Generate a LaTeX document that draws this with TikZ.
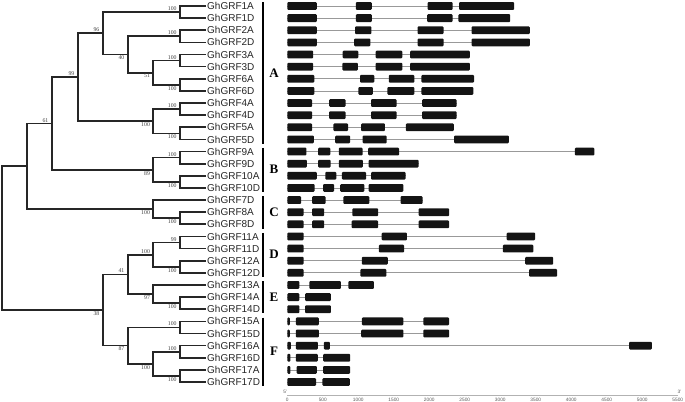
\documentclass[tikz,border=0pt]{standalone}
\usepackage{fontspec}
\setmainfont{Liberation Serif}
\setsansfont{Liberation Sans}
\usepackage{tikz}

\begin{document}
\begin{tikzpicture}[
  x=1pt, y=-12.13pt,
  branch/.style={line width=1.7pt, black!85},
  gene/.style={anchor=west, inner sep=1pt, font=\sffamily\fontsize{10}{10}\selectfont, text=black!85},
  boot/.style={inner sep=1.2pt, xshift=-2pt, font=\fontsize{5.8}{6}\selectfont, text=black!75},
  up/.style={boot, anchor=south east},
  dn/.style={boot, anchor=north east},
  bar/.style={line width=2pt, black},
  clade/.style={font=\bfseries\fontsize{13}{13}\selectfont},
  intron/.style={line width=0.8pt, black!40},
  exon/.style={fill=black!92, rounded corners=1pt},
  axis/.style={line width=1pt, black!30},
  tick/.style={inner sep=0pt, font=\sffamily\fontsize{4.8}{5}\selectfont, text=black!65}
]
\useasboundingbox (0,-0.4946) rectangle (685,32.646);
% Leaves
\foreach \g [count=\i from 0] in {1A,1D,2A,2D,3A,3D,6A,6D,4A,4D,5A,5D,9A,9D,10A,10D,
    7D,8A,8D,11A,11D,12A,12D,13A,14A,14D,15A,15D,16A,16D,17A,17D}
  \node[gene] (g\g) at (206,\i) {GhGRF\g};
% Inner nodes: paralogue pairs
\coordinate (p1)  at (180,0.5);
\coordinate (p2)  at (180,2.5);
\coordinate (p3)  at (180,4.5);
\coordinate (p6)  at (180,6.5);
\coordinate (p4)  at (180,8.5);
\coordinate (p5)  at (180,10.5);
\coordinate (p9)  at (180,12.5);
\coordinate (p10) at (180,14.5);
\coordinate (p8)  at (180,17.5);
\coordinate (p11) at (180,19.5);
\coordinate (p12) at (180,21.5);
\coordinate (p14) at (180,24.5);
\coordinate (p15) at (180,26.5);
\coordinate (p16) at (180,28.5);
\coordinate (p17) at (180,30.5);
% Inner nodes: deeper levels
\coordinate (n36)   at (153.3,5.5);
\coordinate (n45)   at (153.3,9.5);
\coordinate (nB)    at (153.3,13.5);
\coordinate (nC)    at (153.3,16.75);
\coordinate (nD)    at (153.3,20.5);
\coordinate (nE)    at (153.3,23.75);
\coordinate (n1617) at (153.3,29.5);
\coordinate (n236)  at (127.7,4);
\coordinate (nDE)   at (127.7,22.125);
\coordinate (nF)    at (127.7,28);
\coordinate (n1236) at (102.7,2.25);
\coordinate (nDEF)  at (102.7,25.0625);
\coordinate (nA)    at (77.7,5.875);
\coordinate (nAB)   at (51.7,9.6875);
\coordinate (nABC)  at (26.7,13.21875);
\coordinate (root)  at (1.7,19.140625);
% Branches
\draw[branch] (g1A.west)  -| (p1)  |- (g1D.west);
\draw[branch] (g2A.west)  -| (p2)  |- (g2D.west);
\draw[branch] (g3A.west)  -| (p3)  |- (g3D.west);
\draw[branch] (g6A.west)  -| (p6)  |- (g6D.west);
\draw[branch] (g4A.west)  -| (p4)  |- (g4D.west);
\draw[branch] (g5A.west)  -| (p5)  |- (g5D.west);
\draw[branch] (g9A.west)  -| (p9)  |- (g9D.west);
\draw[branch] (g10A.west) -| (p10) |- (g10D.west);
\draw[branch] (g8A.west)  -| (p8)  |- (g8D.west);
\draw[branch] (g11A.west) -| (p11) |- (g11D.west);
\draw[branch] (g12A.west) -| (p12) |- (g12D.west);
\draw[branch] (g14A.west) -| (p14) |- (g14D.west);
\draw[branch] (g15A.west) -| (p15) |- (g15D.west);
\draw[branch] (g16A.west) -| (p16) |- (g16D.west);
\draw[branch] (g17A.west) -| (p17) |- (g17D.west);
\draw[branch] (p3)  -| (n36)   |- (p6);
\draw[branch] (p4)  -| (n45)   |- (p5);
\draw[branch] (p9)  -| (nB)    |- (p10);
\draw[branch] (g7D.west)  -| (nC) |- (p8);
\draw[branch] (p11) -| (nD)    |- (p12);
\draw[branch] (g13A.west) -| (nE) |- (p14);
\draw[branch] (p16) -| (n1617) |- (p17);
\draw[branch] (p2)  -| (n236)  |- (n36);
\draw[branch] (nD)  -| (nDE)   |- (nE);
\draw[branch] (p15) -| (nF)    |- (n1617);
\draw[branch] (p1)  -| (n1236) |- (n236);
\draw[branch] (nDE) -| (nDEF)  |- (nF);
\draw[branch] (n1236) -| (nA)  |- (n45);
\draw[branch] (nA)  -| (nAB)   |- (nB);
\draw[branch] (nAB) -| (nABC)  |- (nC);
\draw[branch] (nABC) -| (root) |- (nDEF);
% Bootstrap values
\foreach \n/\v in {p1/100, p2/100, p3/100, n1236/96, p4/100, nA/99, nAB/61, p9/100,
    p11/99, nD/100, nDE/41, p15/100, p16/100}
  \node[up] (b\n) at (\n) {\v};
\foreach \n/\v in {p6/100, n36/51, n236/40, p5/100, n45/100, p10/100, nB/89, p8/100,
    nC/100, p12/100, nE/97, p14/100, p17/100, n1617/100, nF/87, nDEF/38}
  \node[dn] (b\n) at (\n) {\v};
% Groups
\foreach \t/\b/\n in {0/11/A, 12/15/B, 16/18/C, 19/22/D, 23/25/E, 26/31/F} {
  \draw[bar] (263.3,\t-0.3) -- (263.3,\b+0.35);
  \node[clade] (c\n) at (274,{(\t+\b)/2}) {\n};
}
% Gene structures (bp)
\begin{scope}[shift={(287.3,0)}, x=0.071pt]
\foreach \r/\len/\ex in {
    0/3195/{0/415,965/1190,1975/2330,2420/3195},
    1/3140/{0/415,965/1190,1970/2330,2410/3140},
    2/3415/{0/415,955/1185,1835/2200,2595/3415},
    3/3415/{0/415,940/1170,1835/2200,2595/3415},
    4/2570/{0/365,780/1000,1245/1620,1730/2570},
    5/2570/{0/365,775/995,1245/1620,1730/2570},
    6/2630/{0/380,1025/1225,1430/1790,1890/2630},
    7/2620/{0/380,1000/1205,1410/1790,1890/2620},
    8/2385/{0/350,590/820,1180/1540,1900/2385},
    9/2385/{0/350,590/820,1180/1540,1900/2385},
    10/2345/{0/350,650/855,1040/1375,1670/2345},
    11/3120/{0/375,675/885,1060/1400,2350/3120},
    12/4325/{0/270,435/605,725/1060,1140/1575,4050/4325},
    13/1850/{0/275,435/610,725/1065,1145/1850},
    14/1665/{0/415,535/690,770/1110,1180/1665},
    15/1635/{0/385,505/660,745/1085,1145/1635},
    16/1905/{0/195,350/540,790/1155,1595/1905},
    17/2280/{0/230,350/520,915/1280,1850/2280},
    18/2280/{0/230,350/520,905/1280,1850/2280},
    19/3490/{0/230,1330/1685,3090/3490},
    20/3465/{0/230,1290/1645,3035/3465},
    21/3745/{0/230,1050/1415,3350/3745},
    22/3800/{0/230,1030/1395,3405/3800},
    23/1220/{0/170,310/755,860/1220},
    24/615/{0/170,250/615},
    25/615/{0/170,250/615},
    26/2280/{0/35,120/445,1050/1635,1915/2280},
    27/2280/{0/35,120/445,1040/1635,1915/2280},
    28/5135/{0/50,120/430,515/600,4815/5135},
    29/885/{0/45,120/430,505/885},
    30/885/{0/45,130/415,505/885},
    31/880/{0/405,495/880}} {
  \draw[intron] (0,\r) -- (\len,\r);
  \foreach \a/\b in \ex
    \fill[exon] (\a,\r-0.32) rectangle (\b,\r+0.32);
}
% Scale
\draw[axis] (0,32.07) -- (5500,32.07);
\foreach \t in {0,500,...,5500}
  \node[tick] (t\t) at (\t,32.45) {\t};
\node[tick] (five)  at (-30,31.85)  {5'};
\node[tick] (three) at (5525,31.85) {3'};
\end{scope}
\end{tikzpicture}
\end{document}
